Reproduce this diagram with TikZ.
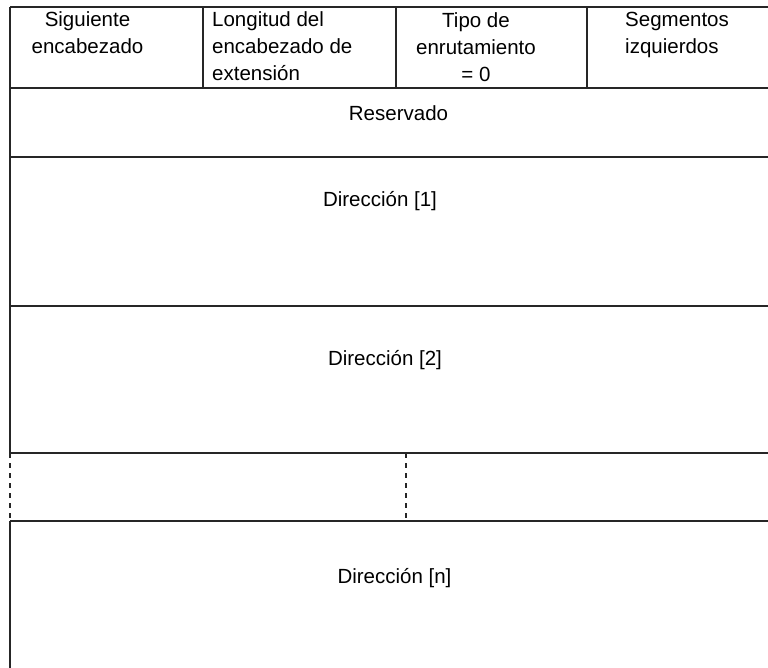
\documentclass[tikz,border=0pt]{standalone}
\usepackage{fontspec}
\setmainfont{Liberation Sans}
\begin{document}
\begin{tikzpicture}[x=1pt,y=-1pt,
  rule/.style={line width=1.5pt,draw=black!85},
  dashrule/.style={rule,dash pattern=on 5pt off 5pt},
  celltext/.style={inner sep=0pt,font=\fontsize{20.5}{27}\selectfont},
  field/.style={celltext,anchor=base}]
\useasboundingbox (0,0) rectangle (768,668);
% row boundaries of the header layout
\foreach \yy/\nm in {7/r0,88/r1,157/r2,306/r3,453/r4,521/r5}{
  \coordinate (\nm w) at (10,\yy);
  \coordinate (\nm e) at (768,\yy);
  \draw[rule] (\nm w) -- (\nm e);
}
\coordinate (bot) at (10,668);
% left border, broken by the elided rows
\draw[rule] (r0w) -- (r4w);
\draw[dashrule] (r4w) -- (r5w);
\draw[rule] (r5w) -- (bot);
% column dividers of the first word
\foreach \xx/\nm in {203/c1,396/c2,587/c3}{
  \coordinate (\nm t) at (\xx,7);
  \coordinate (\nm b) at (\xx,88);
  \draw[rule] (\nm t) -- (\nm b);
}
% divider inside the elided row
\coordinate (mt) at (406,453);
\coordinate (mb) at (406,521);
\draw[dashrule] (mt) -- (mb);
% header fields
\node[field] (next) at (87.5,26.5)
  {\begin{tabular}[t]{@{}c@{}}Siguiente\\encabezado\end{tabular}};
\node[celltext,anchor=base west] (hlen) at (212,26.5)
  {\begin{tabular}[t]{@{}l@{}}Longitud del\\encabezado de\\extensión\end{tabular}};
\node[field] (rtype) at (476,28)
  {\begin{tabular}[t]{@{}c@{}}Tipo de\\enrutamiento\\= 0\end{tabular}};
\node[celltext,anchor=base west] (segs) at (625,26.5)
  {\begin{tabular}[t]{@{}l@{}}Segmentos\\izquierdos\end{tabular}};
% body rows
\node[field] (resv) at (398.5,121) {Reservado};
\node[field] (addr1) at (380,207) {Dirección [1]};
\node[field] (addr2) at (385,365) {Dirección [2]};
\node[field] (addrn) at (394.5,583) {Dirección [n]};
\end{tikzpicture}
\end{document}
